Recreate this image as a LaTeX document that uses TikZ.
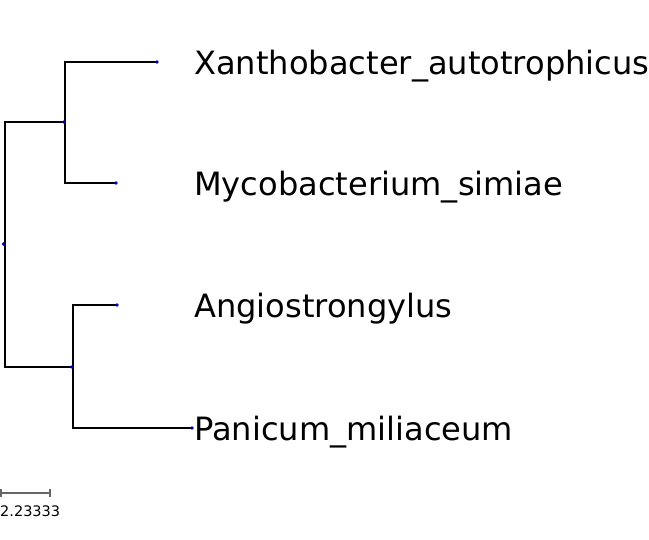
\documentclass[tikz,border=0pt]{standalone}
\usepackage{fontspec}
\setmainfont{DejaVu Sans}
\begin{document}
\begin{tikzpicture}[x=1pt,y=-1pt,
  branch/.style={draw=black,line width=1.8pt},
  dot/.style={circle,fill=blue!75!black,inner sep=0pt,minimum size=3.6pt},
  leaflabel/.style={anchor=base west,inner sep=0pt,font=\fontsize{32.1}{36}\selectfont},
  scalebar/.style={draw=gray!80!black,line width=1.2pt}]
\useasboundingbox (0,0) rectangle (649,540);
% internal nodes and leaves
\coordinate (root) at (5,244);
\coordinate (A) at (65,122);
\coordinate (B) at (73,367);
\coordinate (L1) at (157,62);
\coordinate (L2) at (116,183);
\coordinate (L3) at (117,305);
\coordinate (L4) at (192,428);
\draw[branch] (A) -| (root) |- (B);
\draw[branch] (L1) -| (A) |- (L2);
\draw[branch] (L3) -| (B) |- (L4);
\node[dot] at ([xshift=-1.5]root) {};
\foreach \p in {A,B} \node[dot] at ([xshift=-1]\p) {};
\foreach \p in {L1,L2,L3,L4} \node[dot] at (\p) {};
\node[leaflabel] (t1) at (194,75) {Xanthobacter\_autotrophicus};
\node[leaflabel] (t2) at (194,196) {Mycobacterium\_simiae};
\node[leaflabel] (t3) at (194,318) {Angiostrongylus};
\node[leaflabel] (t4) at (194,441) {Panicum\_miliaceum};
% scale bar
\coordinate (s1) at (1,493);
\coordinate (s2) at (50,493);
\draw[scalebar] (s1) -- (s2);
\draw[scalebar] ([yshift=-4]s1) -- ([yshift=4]s1);
\draw[scalebar] ([yshift=-4]s2) -- ([yshift=4]s2);
\node[anchor=base west,inner sep=0pt,font=\fontsize{14.5}{16}\selectfont] (sl) at (0,516) {2.23333};
\end{tikzpicture}
\end{document}
